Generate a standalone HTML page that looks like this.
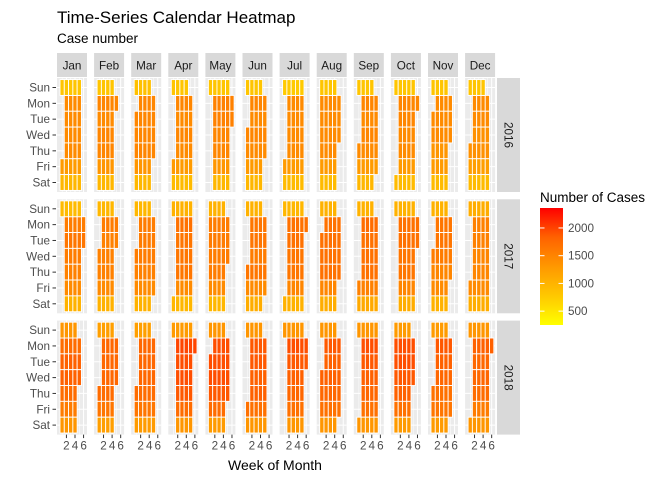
<!DOCTYPE html>
<html><head><meta charset="utf-8"><style>
html,body{margin:0;padding:0;background:#fff;}
svg{display:block;font-family:"Liberation Sans",sans-serif;}
</style></head><body>
<svg id="chart" width="672" height="480" viewBox="0 0 672 480">
<defs>
<linearGradient id="grad" x1="0" y1="1" x2="0" y2="0">
<stop offset="0" stop-color="#FFFF00"/><stop offset="0.25" stop-color="#FFC800"/><stop offset="0.5" stop-color="#FF9800"/><stop offset="0.75" stop-color="#FF6200"/><stop offset="1" stop-color="#FF0000"/>
</linearGradient>
</defs>
<text x="57" y="23" font-size="17" fill="#000">Time-Series Calendar Heatmap</text>
<text x="57" y="43" font-size="13.5" fill="#000">Case number</text>
<text x="275" y="470" font-size="14" text-anchor="middle" fill="#000">Week of Month</text>
<g id="panels"></g>
<g>
<text x="540" y="202" font-size="13.5" fill="#000">Number of Cases</text>
<rect x="540" y="208" width="23" height="117" fill="url(#grad)"/>
<g id="legend-ticks"></g>
</g>
</svg>
<script>
const years = [2016, 2017, 2018];
const months = ["Jan","Feb","Mar","Apr","May","Jun","Jul","Aug","Sep","Oct","Nov","Dec"];
const weekdays = ["Sun","Mon","Tue","Wed","Thu","Fri","Sat"];
const weekTicks = [2, 4, 6];
const legendTicks = [500, 1000, 1500, 2000];
const cases2016 = [
 [850,1450,1450,1450,1450,1300,1000],[850,1500,1450,1500,1500,1350,1000],[900,1500,1500,1500,1500,1350,1000],
 [850,1500,1450,1500,1450,1300,950],[850,1550,1550,1500,1500,1350,1000],[850,1500,1450,1500,1450,1300,1000],
 [800,1450,1450,1450,1450,1300,950],[850,1450,1450,1450,1450,1300,950],[850,1500,1450,1500,1450,1300,1000],
 [850,1500,1500,1450,1450,1300,950],[850,1450,1450,1450,1350,1300,950],[850,1450,1450,1400,1400,1250,950]];
const cases2017 = [
 [950,1600,1650,1600,1550,1450,1050],[1000,1600,1550,1550,1550,1450,1050],[1000,1600,1600,1600,1550,1450,1050],
 [1050,1700,1650,1650,1650,1450,1000],[1050,1600,1600,1600,1600,1450,1000],[1050,1650,1650,1600,1650,1450,1100],
 [1000,1700,1700,1650,1650,1500,1050],[1050,1700,1700,1700,1700,1500,1100],[1050,1750,1700,1700,1700,1550,1150],
 [1050,1700,1700,1650,1650,1500,1100],[1050,1650,1650,1600,1500,1450,1050],[1100,1550,1550,1500,1500,1450,1100]];
const cases2018 = [
 [1350,1750,1850,1850,1750,1600,1350],[1250,1800,1800,1800,1750,1650,1250],[1250,1800,1800,1800,1750,1650,1300],
 [1300,2000,1950,1950,1900,1750,1350],[1350,1950,1950,1950,1900,1750,1300],[1350,1900,1900,1850,1850,1700,1350],
 [1350,1950,1900,1850,1800,1700,1350],[1350,1900,1850,1850,1800,1700,1350],[1350,1950,1900,1850,1800,1700,1350],
 [1300,1950,1950,1900,1850,1700,1300],[1300,1900,1850,1800,1700,1650,1300],[1350,1850,1800,1800,1750,1600,1350]];
const casesByYear = [cases2016, cases2017, cases2018];

const vMin = 300, vMax = 2360;
const stops = [[0,[255,255,0]],[0.25,[255,200,0]],[0.5,[255,152,0]],[0.75,[255,98,0]],[1,[255,0,0]]];
function colorFor(v){
  let t = Math.max(0, Math.min(1, (v - vMin) / (vMax - vMin)));
  for (let i = 1; i < stops.length; i++) {
    if (t <= stops[i][0]) {
      const a = stops[i-1], b = stops[i], f = (t - a[0]) / (b[0] - a[0]);
      const c = a[1].map((x, k) => Math.round(x + (b[1][k] - x) * f));
      return `rgb(${c[0]},${c[1]},${c[2]})`;
    }
  }
  return "rgb(255,0,0)";
}
const NS = "http://www.w3.org/2000/svg";
function mk(tag, attrs, parent){ const e = document.createElementNS(NS, tag); for (const k in attrs) e.setAttribute(k, attrs[k]); parent.appendChild(e); return e; }

const panelLeft0 = 57, panelPitchX = 37.1, panelW = 30;
const panelTop0 = 78, panelPitchY = 121.3, panelH = 114;
const xUnit = panelW / 7;
const yUnit = panelH / 7.2;
function xScale(px, w){ return px + (w + 0.2) * xUnit; }
function yScale(py, r){ return py + (r - 0.4) * yUnit; }

const root = document.getElementById("panels");
months.forEach((m, i) => {
  const x = panelLeft0 + i * panelPitchX;
  const s = mk("rect", {x: x, y: 53, width: panelW, height: 24, fill: "#D9D9D9"}, root);
  
  
  const t = mk("text", {x: x + panelW / 2, y: 69.5, "font-size": 11.7, "text-anchor": "middle", fill: "#1A1A1A"}, root);
  t.textContent = m;
  
  
});
years.forEach((yr, yi) => {
  const py = panelTop0 + yi * panelPitchY;
  const ys = mk("rect", {x: 497, y: py, width: 23, height: panelH, fill: "#D9D9D9"}, root);
  
  
  const yt = mk("text", {x: 0, y: 0, "font-size": 11.7, "text-anchor": "middle", fill: "#1A1A1A", transform: `translate(504.5,${py + panelH / 2}) rotate(90)`}, root);
  yt.textContent = yr;
  
  
  weekdays.forEach((wd, r) => {
    const cy = yScale(py, r + 1);
    const lt = mk("text", {x: 50, y: cy + 4, "font-size": 11.7, "text-anchor": "end", fill: "#4D4D4D"}, root);
    lt.textContent = wd;
    
    
    mk("line", {x1: 52.5, x2: 56, y1: cy, y2: cy, stroke: "#333", "stroke-width": 1}, root);
  });
  months.forEach((m, mi) => {
    const px = panelLeft0 + mi * panelPitchX;
    const g = mk("g", {}, root);
    
    
    mk("rect", {x: px, y: py, width: panelW, height: panelH, fill: "#EBEBEB"}, g);
    [1, 3, 5].forEach(w => mk("line", {x1: xScale(px, w), x2: xScale(px, w), y1: py, y2: py + panelH, stroke: "#fff", "stroke-width": 0.5}, g));
    weekTicks.forEach(w => mk("line", {x1: xScale(px, w), x2: xScale(px, w), y1: py, y2: py + panelH, stroke: "#fff", "stroke-width": 1}, g));
    for (let r = 1; r <= 7; r++) mk("line", {x1: px, x2: px + panelW, y1: yScale(py, r), y2: yScale(py, r), stroke: "#fff", "stroke-width": 1}, g);
    const first = new Date(yr, mi, 1);
    const offset = (first.getDay() + 6) % 7;
    const nDays = new Date(yr, mi + 1, 0).getDate();
    const vals = casesByYear[yi][mi];
    for (let d = 1; d <= nDays; d++) {
      const wdI = new Date(yr, mi, d).getDay();
      const week = Math.floor((d - 1 + offset) / 7) + 1;
      const v = vals[wdI];
      const cell = mk("rect", {x: xScale(px, week - 0.5), y: yScale(py, wdI + 0.5), width: xUnit, height: yUnit, fill: colorFor(v), stroke: "#fff", "stroke-width": 0.9}, g);
      
      
    }
    if (yi === 2) {
      weekTicks.forEach(w => {
        const x = xScale(px, w);
        mk("line", {x1: x, x2: x, y1: py + panelH, y2: py + panelH + 3.5, stroke: "#333", "stroke-width": 1}, root);
        const xt = mk("text", {x: x, y: py + panelH + 15, "font-size": 11.7, "text-anchor": "middle", fill: "#4D4D4D"}, root);
        xt.textContent = w;
        
        
      });
    }
  });
});
const lg = document.getElementById("legend-ticks");
legendTicks.forEach(v => {
  const y = 325 - (v - 250) / (2360 - 250) * 117;
  mk("line", {x1: 540, x2: 544.5, y1: y, y2: y, stroke: "#fff", "stroke-width": 1}, lg);
  mk("line", {x1: 558.5, x2: 563, y1: y, y2: y, stroke: "#fff", "stroke-width": 1}, lg);
  const t = mk("text", {x: 568, y: y + 4, "font-size": 11.7, fill: "#4D4D4D"}, lg);
  t.textContent = v;
  
  
});
</script>
</body></html>
